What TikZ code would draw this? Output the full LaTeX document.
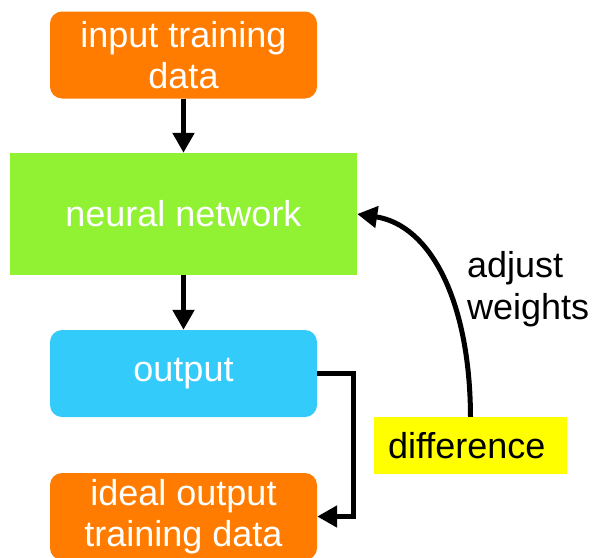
\documentclass[tikz,border=0pt]{standalone}
\usepackage{fontspec}
\setmainfont{Liberation Sans}
\usetikzlibrary{arrows.meta}
\definecolor{cOrange}{RGB}{255,124,0}
\definecolor{cGreen}{RGB}{145,242,52}
\definecolor{cBlue}{RGB}{51,204,250}
\definecolor{cYellow}{RGB}{255,255,0}
\tikzset{
  box/.style={inner sep=0pt, align=center, text=white, font=\fontsize{36}{41}\selectfont},
  rbox/.style={box, rounded corners=12pt, minimum width=267pt, minimum height=87pt},
  conn/.style={line width=5pt, -{Triangle[length=20pt,width=21pt]}},
  lbl/.style={inner sep=0pt, align=left, text=black, font=\fontsize{36}{42}\selectfont}
}
\begin{document}
\begin{tikzpicture}[x=1pt,y=-1pt]
\useasboundingbox (0,0) rectangle (594,557);
\clip (0,0) rectangle (594,557);
\node[rbox, fill=cOrange] (inp) at (183.5,55) {input training\\data};
\node[box, fill=cGreen, minimum width=347pt, minimum height=122pt] (nn) at (183.5,214) {neural network};
\node[rbox, fill=cBlue] (out) at (183.5,373.5) {output};
\node[rbox, fill=cOrange] (ideal) at (183.5,516.5) {ideal output\\training data};
\node[box, fill=cYellow, text=black, minimum width=193pt, minimum height=57pt, text width=165pt, align=left] (diff) at (470.5,445.5) {difference};
\node[lbl, anchor=west] (adj) at (467,289) {adjust\\weights};
\draw[conn] (inp) -- (nn);
\draw[conn] (nn) -- (out);
\draw[conn] (out.east) -- ++(36,0) |- (ideal.east);
\draw[conn] (diff.north) .. controls (470,300) and (430,225) .. (nn.east);
\end{tikzpicture}
\end{document}
